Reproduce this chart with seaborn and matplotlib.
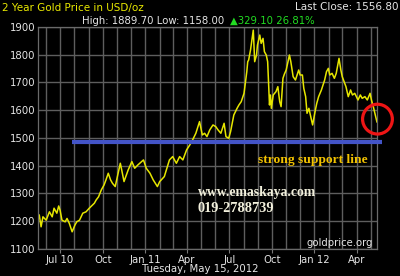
import matplotlib
matplotlib.use("Agg")
import matplotlib.pyplot as plt
import matplotlib.dates as mdates
import seaborn as sns
import pandas as pd

dates = [
    "2010-05-17", "2010-05-21", "2010-05-25", "2010-06-01", "2010-06-08", "2010-06-14",
    "2010-06-18", "2010-06-24", "2010-06-28", "2010-07-01", "2010-07-05", "2010-07-12",
    "2010-07-16", "2010-07-21", "2010-07-27", "2010-08-02", "2010-08-06", "2010-08-12",
    "2010-08-19", "2010-08-26", "2010-09-02", "2010-09-07", "2010-09-13", "2010-09-17",
    "2010-09-22", "2010-09-28", "2010-10-04", "2010-10-08", "2010-10-13", "2010-10-18",
    "2010-10-22", "2010-10-28", "2010-11-01", "2010-11-08", "2010-11-11", "2010-11-16",
    "2010-11-25", "2010-12-03", "2010-12-09", "2010-12-16", "2010-12-28", "2011-01-03",
    "2011-01-11", "2011-01-18", "2011-01-27", "2011-02-01", "2011-02-11", "2011-02-22",
    "2011-03-01", "2011-03-09", "2011-03-16", "2011-03-23", "2011-03-31", "2011-04-07",
    "2011-04-13", "2011-04-20", "2011-04-28", "2011-05-04", "2011-05-09", "2011-05-14",
    "2011-05-20", "2011-05-27", "2011-06-02", "2011-06-07", "2011-06-13", "2011-06-20",
    "2011-06-24", "2011-06-30", "2011-07-04", "2011-07-11", "2011-07-18", "2011-07-22",
    "2011-07-27", "2011-08-02", "2011-08-08", "2011-08-10", "2011-08-12", "2011-08-16",
    "2011-08-22", "2011-08-25", "2011-08-29", "2011-08-31", "2011-09-05", "2011-09-08",
    "2011-09-12", "2011-09-15", "2011-09-19", "2011-09-22", "2011-09-26", "2011-09-28",
    "2011-09-30", "2011-10-04", "2011-10-10", "2011-10-14", "2011-10-18", "2011-10-21",
    "2011-10-25", "2011-10-28", "2011-11-01", "2011-11-08", "2011-11-11", "2011-11-16",
    "2011-11-21", "2011-11-28", "2011-12-01", "2011-12-06", "2011-12-09", "2011-12-13",
    "2011-12-16", "2011-12-20", "2011-12-28", "2012-01-03", "2012-01-06", "2012-01-10",
    "2012-01-16", "2012-01-23", "2012-01-27", "2012-01-31", "2012-02-03", "2012-02-08",
    "2012-02-13", "2012-02-17", "2012-02-23", "2012-02-27", "2012-03-01", "2012-03-05",
    "2012-03-09", "2012-03-14", "2012-03-19", "2012-03-23", "2012-03-28", "2012-04-04",
    "2012-04-09", "2012-04-13", "2012-04-19", "2012-04-24", "2012-04-30", "2012-05-03",
    "2012-05-07", "2012-05-14", "2012-05-15",
]
prices = [
    1223, 1180, 1216, 1204, 1234, 1216,
    1247, 1229, 1255, 1240, 1204, 1198,
    1210, 1192, 1162, 1186, 1198, 1204,
    1229, 1234, 1247, 1255, 1265, 1277,
    1288, 1313, 1331, 1349, 1373, 1349,
    1337, 1325, 1355, 1409, 1385, 1343,
    1385, 1415, 1391, 1403, 1421, 1391,
    1373, 1349, 1325, 1343, 1361, 1421,
    1433, 1409, 1433, 1421, 1457, 1475,
    1493, 1517, 1559, 1511, 1517, 1505,
    1529, 1547, 1541, 1529, 1517, 1553,
    1505, 1499, 1523, 1583, 1607, 1619,
    1631, 1661, 1739, 1775, 1781, 1817,
    1889, 1775, 1799, 1835, 1871, 1841,
    1859, 1811, 1799, 1775, 1619, 1655,
    1607, 1655, 1667, 1685, 1631, 1613,
    1715, 1730, 1745, 1799, 1775, 1721,
    1709, 1745, 1727, 1727, 1679, 1649,
    1589, 1607, 1547, 1601, 1625, 1649,
    1673, 1709, 1739, 1751, 1727, 1733,
    1715, 1733, 1787, 1745, 1721, 1703,
    1685, 1649, 1673, 1655, 1661, 1637,
    1655, 1643, 1649, 1637, 1661, 1637,
    1613, 1565, 1557,
]

support_level = 1487
support_dates = ["2010-07-26", "2012-05-26"]
circle_date = "2012-05-16"
circle_value = 1568
y_ticks = [1100, 1200, 1300, 1400, 1500, 1600, 1700, 1800, 1900]
x_tick_dates = ["2010-07-01", "2010-10-01", "2011-01-01", "2011-04-01",
                "2011-07-01", "2011-10-01", "2012-01-01", "2012-04-01"]
x_tick_labels = ["Jul 10", "Oct", "Jan 11", "Apr", "Jul", "Oct", "Jan 12", "Apr"]

sns.set_theme(style="dark")
plt.rcParams["font.family"] = ["DejaVu Sans"]

df = pd.DataFrame({"date": pd.to_datetime(dates), "price": prices})

W, H = 400, 276
fig = plt.figure(figsize=(W / 100, H / 100), dpi=100, facecolor="black")
ax = fig.add_axes([38.3 / W, 1 - 249 / H, (377 - 38.3) / W, (249 - 27) / H])
ax.set_facecolor("black")

grid_c = "#5e5e5e"
ax.set_xlim(pd.Timestamp("2010-05-15"), pd.Timestamp("2012-05-15"))
ax.set_ylim(1100, 1900)
ax.set_yticks(y_ticks)
ax.set_yticklabels([str(v) for v in y_ticks])
ax.xaxis.set_minor_locator(mdates.MonthLocator())
ax.set_xticks(pd.to_datetime(x_tick_dates))
ax.set_xticklabels(x_tick_labels)
ax.grid(True, which="both", color=grid_c, lw=1.0)
ax.tick_params(axis="x", which="major", colors="#777777", length=3, width=0.8,
               pad=1.5, labelcolor="#e6e6e6", labelsize=7.3, bottom=True)
ax.tick_params(axis="x", which="minor", length=0)
ax.tick_params(axis="y", length=0, pad=2, labelcolor="#e6e6e6", labelsize=7.3)
for s in ax.spines.values():
    s.set_color("#6a6a6a")
    s.set_linewidth(0.9)

sns.lineplot(data=df, x="date", y="price", ax=ax, color="#e6e600", lw=1.1)
ax.set_xlabel("")
ax.set_ylabel("")

ax.plot(pd.to_datetime(support_dates), [support_level, support_level],
        color="#4354c8", lw=3.0, solid_capstyle="butt", clip_on=False, zorder=5)
ax.scatter([pd.Timestamp(circle_date)], [circle_value], s=460, facecolors="none",
           edgecolors="#ee1515", linewidths=2.3, clip_on=False, zorder=6)


def fx(x):
    return x / W


def fy(y):
    return 1 - y / H


fig.text(fx(2.5), fy(7.5), "2 Year Gold Price in USD/oz", color="#e8e800",
         fontsize=7.5, ha="left", va="center")
fig.text(fx(398.5), fy(7.5), "Last Close: 1556.80", color="#e6e6e6",
         fontsize=7.5, ha="right", va="center")
fig.text(fx(82.5), fy(20.5), "High: 1889.70 Low: 1158.00", color="#e6e6e6",
         fontsize=7.3, ha="left", va="center")
fig.text(fx(229.5), fy(20.5), "\u25b2329.10 26.81%", color="#22dd22",
         fontsize=7.3, ha="left", va="center")
fig.text(fx(200), fy(269), "Tuesday, May 15, 2012", color="#e6e6e6",
         fontsize=7.3, ha="center", va="center")
fig.text(fx(373), fy(242.5), "goldprice.org", color="#e6e6e6",
         fontsize=7.3, ha="right", va="center")

serif = ["Liberation Serif", "DejaVu Serif"]
fig.text(fx(258), fy(160), "strong support line", color="#f2c200",
         fontsize=9.7, fontweight="bold", family=serif, ha="left", va="center")
fig.text(fx(198), fy(192.5), "www.emaskaya.com", color="#f2f0dc",
         fontsize=9.8, fontweight="bold", family=serif, ha="left", va="center")
fig.text(fx(198), fy(208.5), "019-2788739", color="#f2f0dc",
         fontsize=10.3, fontweight="bold", family=serif, ha="left", va="center")

fig.savefig("out.png", dpi=100, facecolor="black")
